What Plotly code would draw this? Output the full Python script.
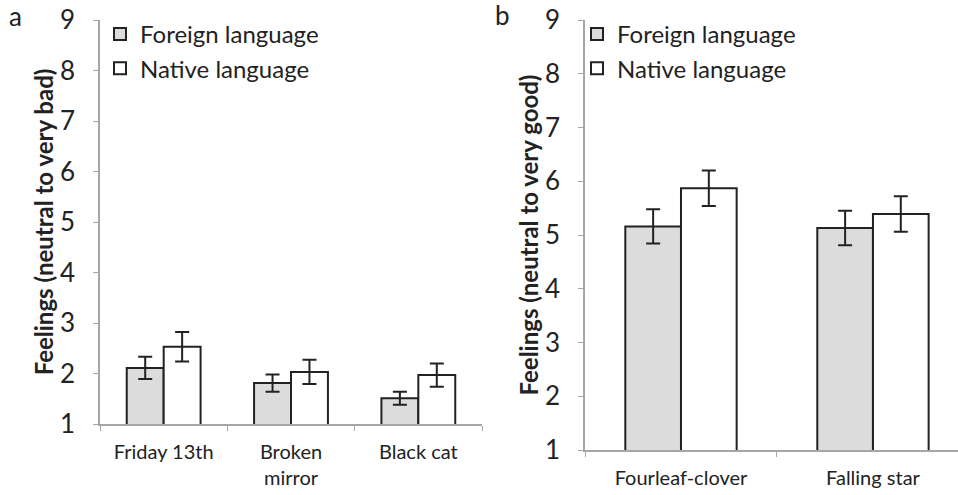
import plotly.graph_objects as go

# panel a: superstitions with bad feelings
cats_a = ["Friday 13th", "Broken<br>mirror", "Black cat"]
foreign_a = [2.11, 1.81, 1.51]
foreign_a_err = [0.22, 0.17, 0.13]
native_a = [2.53, 2.03, 1.97]
native_a_err = [0.29, 0.24, 0.23]

# panel b: superstitions with good feelings
cats_b = ["Fourleaf-clover", "Falling star"]
foreign_b = [5.16, 5.13]
foreign_b_err = [0.32, 0.32]
native_b = [5.87, 5.39]
native_b_err = [0.33, 0.33]

FONT = "Lato"
TXT = "#222222"
AXIS = "#a6a6a6"
GREY_FILL = "#dcdcdc"

def bar(name, x, y, err, fill, xa, ya, legend):
    return go.Bar(
        name=name, x=x, y=y,
        xaxis=xa, yaxis=ya, legend=legend,
        marker=dict(color=fill, line=dict(color=TXT, width=2)),
        error_y=dict(type="data", array=err, color=TXT, thickness=2, width=7),
    )

fig = go.Figure()
fig.add_trace(bar("Foreign language", cats_a, foreign_a, foreign_a_err, GREY_FILL, "x", "y", "legend"))
fig.add_trace(bar("Native language", cats_a, native_a, native_a_err, "white", "x", "y", "legend"))
fig.add_trace(bar("Foreign language", cats_b, foreign_b, foreign_b_err, GREY_FILL, "x2", "y2", "legend2"))
fig.add_trace(bar("Native language", cats_b, native_b, native_b_err, "white", "x2", "y2", "legend2"))

xcommon = dict(
    showline=True, linecolor=AXIS, linewidth=1.5,
    ticks="outside", tickson="boundaries", ticklen=5, tickcolor=AXIS,
    ticklabelstandoff=9,
    tickfont=dict(size=20, color=TXT, family=FONT),
    showgrid=False, automargin=False,
)
ycommon = dict(
    range=[1, 9], dtick=1,
    showline=True, linecolor=AXIS, linewidth=1.5,
    ticks="outside", ticklen=5, tickcolor=AXIS, ticklabelstandoff=13,
    tickfont=dict(size=26, color=TXT, family=FONT),
    showgrid=False, zeroline=False, automargin=False,
)
ytitle_font = dict(size=24, color=TXT, family=FONT)

legcommon = dict(
    font=dict(size=24, color=TXT, family=FONT),
    bgcolor="rgba(0,0,0,0)", yanchor="top",
    traceorder="normal", tracegroupgap=9,
)

fig.update_layout(
    width=958, height=495,
    margin=dict(l=0, r=0, t=0, b=0),
    plot_bgcolor="white", paper_bgcolor="white",
    font=dict(family=FONT, color=TXT),
    bargap=0.42, bargroupgap=0,
    xaxis=dict(domain=[100 / 958, 482 / 958], range=[-0.5, 2.5], anchor="y", **xcommon),
    yaxis=dict(domain=[71 / 495, 475 / 495], anchor="x",
               title=dict(text="<b>Feelings (neutral to very bad)</b>", standoff=0,
                          font=ytitle_font),
               **ycommon),
    xaxis2=dict(domain=[585 / 958, 1.0], range=[-0.5, 1.443], anchor="y2", **xcommon),
    yaxis2=dict(domain=[45 / 495, 475 / 495], anchor="x2",
                title=dict(text="<b>Feelings (neutral to very good)</b>", standoff=0,
                           font=ytitle_font),
                **ycommon),
    legend=dict(x=100 / 958, y=1 - 12 / 495, **legcommon),
    legend2=dict(x=577 / 958, y=1 - 12 / 495, **legcommon),
    annotations=[
        dict(text="a", x=15 / 958, y=1 - 16 / 495, xref="paper", yref="paper",
             xanchor="center", yanchor="middle",
             showarrow=False, font=dict(size=26, color=TXT, family=FONT)),
        dict(text="b", x=502 / 958, y=1 - 15 / 495, xref="paper", yref="paper",
             xanchor="center", yanchor="middle",
             showarrow=False, font=dict(size=26, color=TXT, family=FONT)),
    ],
)

# drop the browser's default body margin so the figure sits at the page corner
fig.write_html("out.html", config={"displayModeBar": False},
               post_script="document.body.style.margin='0';")
